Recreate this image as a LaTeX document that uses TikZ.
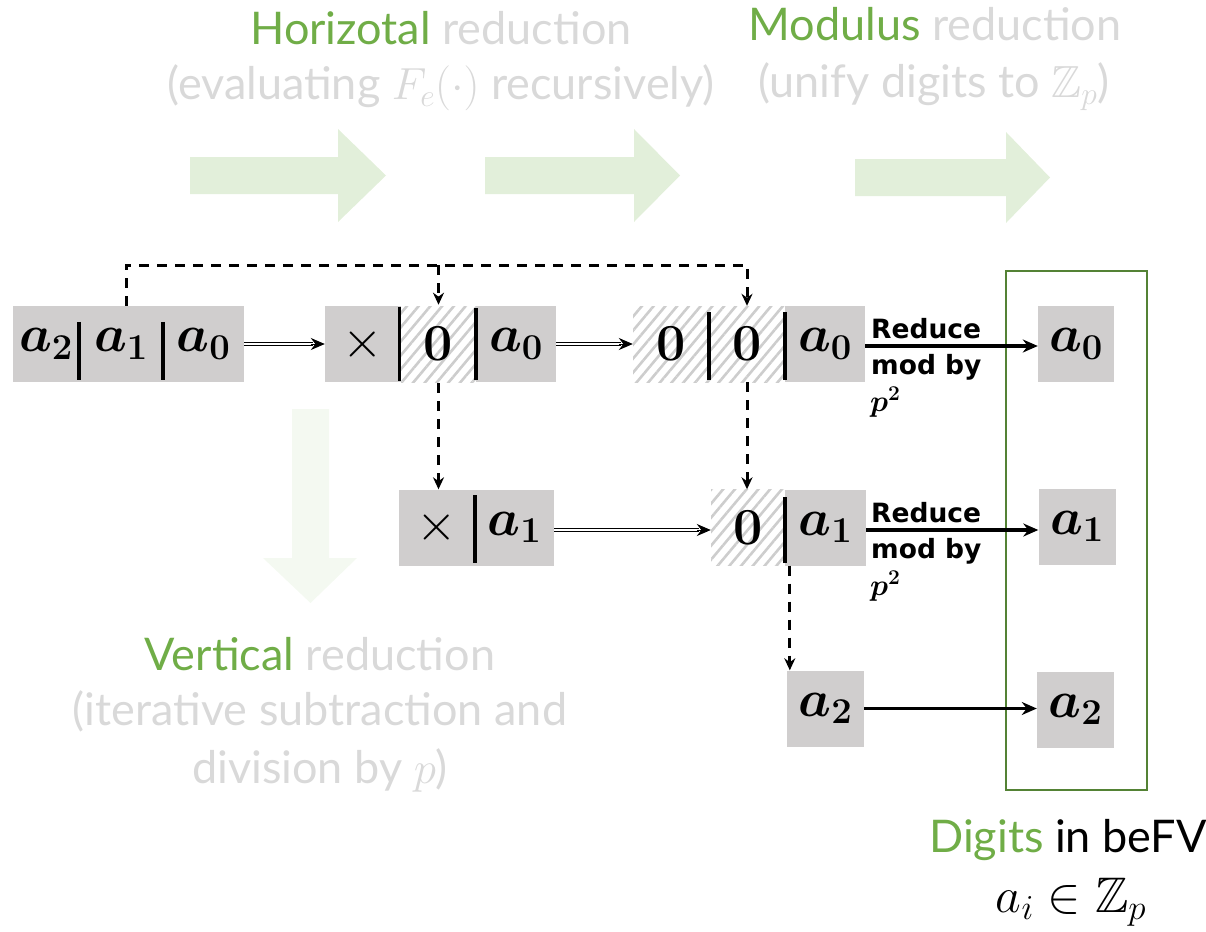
\RequirePackage{fix-cm}
\documentclass[tikz,border=0pt]{standalone}
\usepackage{amsmath,amssymb}
\usepackage[no-math]{fontspec}
\setmainfont{Lato}
\newfontfamily\lblfont{DejaVu Sans}
\usetikzlibrary{arrows.meta,patterns.meta}

\definecolor{cellgray}{RGB}{208,206,206}
\definecolor{hatch}{RGB}{205,205,205}
\definecolor{softgray}{RGB}{217,217,217}
\definecolor{leafgreen}{RGB}{112,173,71}
\definecolor{framegreen}{RGB}{84,130,53}
\definecolor{paleflow}{RGB}{226,239,218}
\definecolor{faintflow}{RGB}{244,249,241}

\newcommand{\dg}[2]{$\boldsymbol{#1}_{\mathbf{#2}}$}
\newcommand{\zr}{$\mathbf{0}$}
\newcommand{\tm}{$\times$}

\begin{document}
\begin{tikzpicture}[x=1pt,y=-1pt,
  cell/.style={rectangle, inner sep=0pt, fill=cellgray, minimum height=76pt,
               font=\fontsize{52}{58}\selectfont},
  hcell/.style={rectangle, inner sep=0pt, minimum height=76pt,
               pattern={Lines[angle=50,distance=9pt,line width=2.6pt]}, pattern color=hatch,
               font=\fontsize{52}{58}\selectfont},
  sep/.style={line width=3.5pt},
  darr/.style={line width=3pt, dash pattern=on 10pt off 8pt, -{Stealth[length=12pt,width=11pt]}},
  dbl/.style={double=white, double distance=2pt, line width=1.2pt},
  dtip/.style={line width=1pt, -{Stealth[length=14pt,width=12pt]}},
  sarr/.style={line width=3.5pt, -{Stealth[length=15pt,width=13pt]}},
  capt/.style={anchor=base, inner sep=0pt, font=\fontsize{45}{54}\selectfont, text=softgray},
  lbl/.style={anchor=base west, inner sep=0pt, font=\lblfont\bfseries\fontsize{26.5}{30}\selectfont},
  lblmath/.style={anchor=base west, inner sep=0pt, font=\fontsize{30}{34}\selectfont},
]
\useasboundingbox (0,0) rectangle (1206,931);

% broad flow arrows in the background
\fill[paleflow] (190,157) -- (338,157) -- (338,129) -- (386,175.5) -- (338,222) -- (338,194) -- (190,194) -- cycle;
\fill[paleflow] (485,157) -- (634,157) -- (634,129) -- (680,175.5) -- (634,222) -- (634,194) -- (485,194) -- cycle;
\fill[paleflow] (855,159) -- (1006,159) -- (1006,132) -- (1050,177.5) -- (1006,223) -- (1006,196) -- (855,196) -- cycle;
\fill[faintflow] (292,409) -- (329,409) -- (329,558) -- (357,558) -- (310.5,603) -- (263,558) -- (292,558) -- cycle;

% captions
\node[capt] (h1) at (441,45) {\textcolor{leafgreen}{Horizotal} reduction};
\node[capt] (h2) at (441,100) {(evaluating $F_e(\cdot)$ recursively)};
\node[capt] (m1) at (935,41) {\textcolor{leafgreen}{Modulus} reduction};
\node[capt] (m2) at (934,98) {(unify digits to $\mathbb{Z}_p$)};
\node[capt] (v1) at (320,670) {\textcolor{leafgreen}{Vertical} reduction};
\node[capt] (v2) at (320,725) {(iterative subtraction and};
\node[capt] (v3) at (320,783) {division by $p$)};
\node[capt, text=black] (d1) at (1068,852) {\textcolor{leafgreen}{Digits} in beFV};
\node[capt, text=black, font=\fontsize{50}{56}\selectfont] (d2) at (1071,912) {$a_i \in \mathbb{Z}_p$};

% frame around the resulting digits
\node[draw=framegreen, line width=2.5pt, rectangle, minimum width=141pt, minimum height=519pt] (frame) at (1076.5,530.5) {};

% first row
\node[cell, minimum width=66pt] (A2) at (46,344) {\dg{a}{2}};
\node[cell, minimum width=84pt] (A1) at (121,344) {\dg{a}{1}};
\node[cell, minimum width=81pt] (A0) at (203.5,344) {\dg{a}{0}};

\node[cell, minimum width=76pt] (Bx) at (363,344) {\tm};
\node[hcell, minimum width=75pt] (Bz) at (438.5,344) {\zr};
\node[cell, minimum width=80pt] (B0) at (516,344) {\dg{a}{0}};

\node[hcell, minimum width=76pt] (Cz1) at (671,344) {\zr};
\node[hcell, minimum width=76pt] (Cz2) at (747,344) {\zr};
\node[cell, minimum width=80pt] (C0) at (825,344) {\dg{a}{0}};

% second row
\node[cell, minimum width=76pt] (Dx) at (437,527.5) {\tm};
\node[cell, minimum width=79pt] (D1) at (514.5,527.5) {\dg{a}{1}};

\node[hcell, minimum width=74pt] (Ez) at (748,527.5) {\zr};
\node[cell, minimum width=81pt] (E1) at (825.5,527.5) {\dg{a}{1}};

% third row
\node[cell, minimum width=77pt] (F2) at (825.5,708.5) {\dg{a}{2}};

% digits
\node[cell, minimum width=76pt] (G0) at (1076,344) {\dg{a}{0}};
\node[cell, minimum width=77pt] (G1) at (1077,526.5) {\dg{a}{1}};
\node[cell, minimum width=77pt] (G2) at (1075.5,709.5) {\dg{a}{2}};

% digit separators
\draw[sep] ([yshift=-16pt]A1.north west) -- ([yshift=2pt]A1.south west);
\draw[sep] ([yshift=-16pt]A0.north west) -- ([yshift=2pt]A0.south west);
\draw[sep] ([yshift=-2pt]Bz.north west) -- ([yshift=2pt]Bz.south west);
\draw[sep] ([yshift=-2pt]B0.north west) -- ([yshift=2pt]B0.south west);
\draw[sep] ([yshift=-6pt]Cz2.north west) -- ([yshift=2pt]Cz2.south west);
\draw[sep] ([yshift=-6pt]C0.north west) -- ([yshift=2pt]C0.south west);
\draw[sep] ([yshift=-6pt]D1.north west) -- ([yshift=3pt]D1.south west);
\draw[sep] ([yshift=-8pt]E1.north west) -- ([yshift=3pt]E1.south west);

% carried digits
\coordinate (topline) at (0,265);
\draw[darr] ([xshift=5pt]A1.north) |- (Cz2.north |- topline) -- (Cz2.north);
\draw[darr] (Bz.north |- topline) -- (Bz.north);
\draw[darr] (Bz.south) -- (Bz.south |- Dx.north);
\draw[darr] (Cz2.south) -- (Cz2.south |- Ez.north);
\draw[darr] ([xshift=3pt]F2.north west |- E1.south) -- ([xshift=3pt]F2.north west);

% horizontal steps
\draw[dbl] (A0.east) -- ([xshift=-12pt]Bx.west);
\draw[dtip] ([xshift=-14pt]Bx.west) -- (Bx.west);
\draw[dbl] (B0.east) -- ([xshift=-12pt]Cz1.west);
\draw[dtip] ([xshift=-14pt]Cz1.west) -- (Cz1.west);
\draw[dbl] ([yshift=-2.5pt]D1.east) -- ([xshift=-12pt,yshift=-2.5pt]Ez.west);
\draw[dtip] ([xshift=-14pt,yshift=-2.5pt]Ez.west) -- ([yshift=-2.5pt]Ez.west);

% modulus steps
\draw[sarr] ([yshift=-2pt]C0.east) -- ([yshift=-2pt]G0.west);
\draw[sarr] ([yshift=-2.5pt]E1.east) -- ([yshift=-3.5pt]G1.west);
\draw[sarr] (F2.east) -- ([yshift=1pt]G2.west);

% step labels
\node[lbl] (r0a) at (871,338) {Reduce};
\node[lbl] (r0b) at (871,374) {mod by};
\node[lblmath] (r0c) at (870,411) {$\boldsymbol{p}^{\mathbf{2}}$};
\node[lbl] (r1a) at (871,522) {Reduce};
\node[lbl] (r1b) at (871,558) {mod by};
\node[lblmath] (r1c) at (870,595) {$\boldsymbol{p}^{\mathbf{2}}$};
\end{tikzpicture}
\end{document}
